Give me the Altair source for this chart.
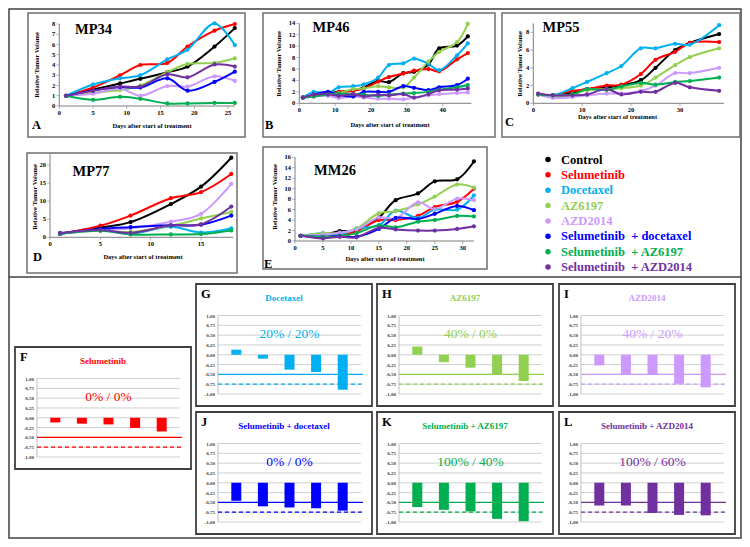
import altair as alt
import pandas as pd

OFF = 8
def X(v): return v - OFF
def Y(v): return v - OFF

FONT = "Liberation Serif, Times New Roman, DejaVu Serif, serif"

SEL_DOC = "Selumetinib\u00a0 + docetaxel"
SEL_AZ6 = "Selumetinib\u00a0 + AZ6197"
SEL_AZD = "Selumetinib\u00a0 + AZD2014"
SERIES = ["Control", "Selumetinib", "Docetaxel", "AZ6197", "AZD2014", SEL_DOC, SEL_AZ6, SEL_AZD]
COLORS = ["#000000", "#ff0000", "#00b0f0", "#92d050", "#cc99ff", "#0000ff", "#00b050", "#7030a0"]

# ---------------- panel A : MP34 ----------------
A_DAYS = [1, 5, 9, 12, 16, 19, 23, 26]
A_VALS = {
    "Control":     [1.0, 1.6, 2.2, 2.65, 3.3, 3.85, 5.8, 7.6],
    "Selumetinib": [1.0, 1.8, 3.0, 4.0, 4.2, 5.8, 7.35, 8.0],
    "Docetaxel":   [1.0, 2.1, 2.7, 3.0, 4.55, 5.5, 8.05, 5.95],
    "AZ6197":      [1.0, 1.3, 1.55, 2.0, 3.3, 4.1, 4.2, 4.65],
    "AZD2014":     [1.0, 1.2, 1.7, 1.0, 1.95, 1.9, 2.9, 2.45],
    SEL_DOC:       [1.0, 1.5, 1.85, 1.8, 2.7, 1.5, 2.35, 3.35],
    SEL_AZ6:       [1.0, 0.6, 0.9, 0.7, 0.25, 0.25, 0.3, 0.3],
    SEL_AZD:       [1.0, 1.5, 1.9, 1.9, 3.1, 2.8, 4.05, 3.85],
}
# ---------------- panel B : MP46 ----------------
B_DAYS = [1, 4, 8, 11, 15, 18, 22, 25, 29, 32, 36, 39, 44, 47]
B_VALS = {
    "Control":     [1.0, 1.4, 1.8, 2.0, 2.2, 2.8, 3.9, 3.7, 5.3, 5.5, 6.8, 9.6, 10.1, 11.7],
    "Selumetinib": [1.0, 1.2, 1.6, 2.0, 2.2, 2.6, 3.8, 4.6, 5.2, 5.7, 6.0, 5.6, 7.7, 8.8],
    "Docetaxel":   [1.0, 2.0, 1.8, 2.8, 3.0, 3.3, 4.5, 6.7, 7.0, 7.8, 6.9, 5.8, 8.4, 10.5],
    "AZ6197":      [1.0, 1.3, 1.6, 1.8, 2.5, 2.6, 3.0, 2.8, 2.8, 4.5, 7.3, 9.0, 10.7, 13.9],
    "AZD2014":     [1.0, 1.2, 1.3, 0.9, 1.2, 1.0, 0.8, 0.8, 0.7, 1.0, 1.4, 1.6, 1.8, 1.9],
    SEL_DOC:       [1.0, 1.5, 2.0, 1.5, 1.2, 2.0, 2.0, 2.0, 3.0, 2.7, 2.3, 2.8, 3.2, 4.3],
    SEL_AZ6:       [1.0, 1.2, 1.5, 1.7, 1.6, 1.5, 1.3, 1.5, 1.7, 1.8, 2.0, 2.4, 2.8, 3.2],
    SEL_AZD:       [1.0, 1.5, 1.6, 1.3, 1.6, 1.2, 1.5, 1.4, 1.6, 1.0, 1.6, 2.3, 2.4, 2.6],
}
# ---------------- panel C : MP55 ----------------
C_DAYS = [1, 4, 8, 11, 15, 18, 22, 25, 29, 32, 38]
C_VALS = {
    "Control":     [1.0, 0.9, 1.2, 1.6, 1.8, 2.0, 2.6, 4.0, 6.0, 6.8, 7.8],
    "Selumetinib": [1.0, 0.9, 1.4, 1.6, 2.0, 2.1, 3.3, 4.9, 5.8, 6.8, 6.9],
    "Docetaxel":   [1.0, 0.9, 1.7, 2.4, 3.4, 4.2, 6.2, 6.2, 6.7, 6.6, 8.8],
    "AZ6197":      [1.0, 0.8, 1.0, 1.5, 1.6, 1.7, 2.0, 2.9, 4.3, 5.2, 6.2],
    "AZD2014":     [1.0, 0.6, 0.7, 0.9, 1.1, 1.1, 1.4, 2.0, 3.4, 3.4, 4.0],
    SEL_AZ6:       [1.0, 0.9, 1.0, 1.6, 1.5, 1.9, 2.3, 2.1, 2.4, 2.5, 2.9],
    SEL_AZD:       [1.1, 0.9, 0.9, 1.0, 1.6, 1.0, 1.3, 1.3, 2.3, 1.8, 1.4],
}
# ---------------- panel D : MP77 ----------------
D_DAYS = [1, 5, 8, 12, 15, 18]
D_VALS = {
    "Control":     [1.0, 2.7, 4.2, 9.2, 14.0, 22.0],
    "Selumetinib": [1.0, 3.2, 6.0, 10.8, 12.5, 17.5],
    "Docetaxel":   [1.0, 2.0, 1.0, 2.9, 1.3, 2.5],
    "AZ6197":      [1.0, 1.8, 1.5, 3.2, 5.2, 7.0],
    "AZD2014":     [1.0, 2.0, 2.5, 4.3, 6.5, 14.8],
    SEL_DOC:       [1.0, 2.3, 2.8, 3.3, 3.5, 6.0],
    SEL_AZ6:       [1.0, 1.8, 0.8, 0.8, 0.9, 1.9],
    SEL_AZD:       [1.2, 2.0, 1.2, 3.3, 3.6, 8.5],
}
# ---------------- panel E : MM26 ----------------
E_DAYS = [1, 5, 8, 11, 15, 18, 22, 25, 29, 32]
E_VALS = {
    "Control":     [1.0, 1.2, 1.9, 2.0, 4.5, 7.8, 9.1, 11.4, 11.8, 15.2],
    "Selumetinib": [1.0, 0.8, 1.0, 1.9, 4.0, 4.0, 4.8, 6.5, 7.5, 10.0],
    "Docetaxel":   [1.0, 1.5, 1.2, 2.4, 3.0, 5.8, 4.4, 6.0, 6.0, 8.7],
    "AZ6197":      [1.0, 1.5, 1.5, 2.4, 5.3, 5.7, 7.0, 8.5, 10.8, 10.2],
    "AZD2014":     [1.0, 1.2, 1.6, 2.2, 4.5, 4.3, 7.4, 6.1, 8.1, 7.8],
    SEL_DOC:       [1.0, 0.8, 1.0, 0.8, 2.3, 4.4, 4.2, 5.2, 6.7, 5.9],
    SEL_AZ6:       [1.0, 0.8, 0.9, 1.5, 3.0, 2.6, 3.7, 4.0, 4.8, 4.7],
    SEL_AZD:       [1.0, 0.5, 0.8, 0.7, 2.5, 2.2, 2.0, 2.0, 2.3, 2.8],
}

# ---------------- waterfall panels ----------------
GRID_VALS = [1.0, 0.75, 0.5, 0.25, 0.0, -0.25, -0.5, -0.75, -1.0]
GRID_LABELS = ["1,00", "0,75", "0,50", "0,25", "0,00", "-0,25", "-0,50", "-0,75", "-1,00"]
THRESH_SOLID = [-0.5]
THRESH_DASH = [-0.75]
BARS = [1, 2, 3, 4, 5]
F_VALS = [-0.12, -0.15, -0.17, -0.26, -0.35]
G_VALS = [0.13, -0.10, -0.38, -0.44, -0.89]
H_VALS = [0.21, -0.19, -0.33, -0.50, -0.67]
I_VALS = [-0.27, -0.50, -0.50, -0.74, -0.83]
J_VALS = [-0.46, -0.60, -0.63, -0.65, -0.71]
K_VALS = [-0.62, -0.69, -0.73, -0.92, -0.98]
L_VALS = [-0.58, -0.58, -0.77, -0.82, -0.83]

COLOR = alt.Color("s:N", scale=alt.Scale(domain=SERIES, range=COLORS), legend=None)


def txt(s, x, y, size, color="black", weight="bold", align="center", angle=None, baseline="middle"):
    kw = dict(align=align, baseline=baseline, font=FONT, fontSize=size, fontWeight=weight, color=color)
    if angle:
        kw["angle"] = angle
    return alt.Chart(pd.DataFrame({"t": [s]})).mark_text(**kw).encode(
        x=alt.value(X(x)), y=alt.value(Y(y)), text="t:N")


def frame(x0, y0, x1, y1, color, width):
    return alt.Chart(pd.DataFrame({"a": [0]})).mark_rect(
        fillOpacity=0, stroke=color, strokeWidth=width).encode(
        x=alt.value(X(x0)), x2=alt.value(X(x1)), y=alt.value(Y(y0)), y2=alt.value(Y(y1)))


def line_panel(days, vals, xdom, xr, ydom, yr, xticks, yticks):
    rows = [dict(day=d, v=v, s=s) for s, arr in vals.items() for d, v in zip(days, arr)]
    df = pd.DataFrame(rows)
    xs = alt.Scale(domain=xdom, range=[X(xr[0]), X(xr[1])], nice=False, zero=False)
    ys = alt.Scale(domain=ydom, range=[Y(yr[0]), Y(yr[1])], nice=False, zero=False)
    enc = dict(x=alt.X("day:Q", scale=xs, axis=None), y=alt.Y("v:Q", scale=ys, axis=None), color=COLOR)
    lines = alt.Chart(df).mark_line(interpolate="catmull-rom", strokeWidth=2).encode(**enc)
    pts = alt.Chart(df).mark_circle(size=18, opacity=1).encode(**enc)
    ax = pd.DataFrame({"x0": [xdom[0]], "x1": [xdom[1]], "y0": [ydom[0]], "y1": [ydom[1]]})
    yline = alt.Chart(ax).mark_rule(color="#7f7f7f", strokeWidth=1).encode(
        x=alt.X("x0:Q", scale=xs, axis=None), y=alt.Y("y0:Q", scale=ys, axis=None), y2="y1:Q")
    xline = alt.Chart(ax).mark_rule(color="#7f7f7f", strokeWidth=1).encode(
        x=alt.X("x0:Q", scale=xs, axis=None), x2="x1:Q", y=alt.Y("y0:Q", scale=ys, axis=None))
    yt = pd.DataFrame({"t": yticks, "x": xdom[0]})
    xt = pd.DataFrame({"t": xticks, "y": ydom[0]})
    ylab = alt.Chart(yt).mark_text(align="right", baseline="middle", dx=-4, font=FONT,
                                   fontSize=6.5, fontWeight="bold", color="black").encode(
        x=alt.X("x:Q", scale=xs, axis=None), y=alt.Y("t:Q", scale=ys, axis=None), text="t:Q")
    xlab = alt.Chart(xt).mark_text(align="center", baseline="top", dy=4, font=FONT,
                                   fontSize=6.5, fontWeight="bold", color="black").encode(
        x=alt.X("t:Q", scale=xs, axis=None), y=alt.Y("y:Q", scale=ys, axis=None), text="t:Q")
    ytk = alt.Chart(yt).mark_tick(orient="horizontal", size=3, thickness=0.8, color="#7f7f7f", xOffset=-1.5).encode(
        x=alt.X("x:Q", scale=xs, axis=None), y=alt.Y("t:Q", scale=ys, axis=None))
    xtk = alt.Chart(xt).mark_tick(orient="vertical", size=3, thickness=0.8, color="#7f7f7f", yOffset=1.5).encode(
        x=alt.X("t:Q", scale=xs, axis=None), y=alt.Y("y:Q", scale=ys, axis=None))
    return alt.layer(yline, xline, ytk, xtk, ylab, xlab, lines, pts)


def wf_panel(L, T, vals, color):
    x0, x1 = L + 22, L + 165
    xs = alt.Scale(domain=[0.5, 5.5], range=[X(x0), X(x1)], nice=False, zero=False)
    ys = alt.Scale(domain=[-1, 1], range=[Y(T + 110), Y(T + 31.5)], nice=False, zero=False)
    gdf = pd.DataFrame({"g": GRID_VALS, "lab": GRID_LABELS})
    grid = alt.Chart(gdf).mark_rule(color="#d0d0d0", strokeWidth=1).encode(
        y=alt.Y("g:Q", scale=ys, axis=None), x=alt.value(X(x0)), x2=alt.value(X(x1)))
    glab = alt.Chart(gdf).mark_text(align="right", baseline="middle", dx=-3, font=FONT,
                                    fontSize=5, fontWeight="bold", color="#404040").encode(
        y=alt.Y("g:Q", scale=ys, axis=None), x=alt.value(X(x0)), text="lab:N")
    adf = pd.DataFrame({"a": [GRID_VALS[-1]], "b": [GRID_VALS[0]]})
    axis = alt.Chart(adf).mark_rule(color="#bfbfbf", strokeWidth=1).encode(
        y=alt.Y("a:Q", scale=ys, axis=None), y2="b:Q", x=alt.value(X(x0)))
    bdf = pd.DataFrame({"b": BARS, "v": vals, "z": 0.0})
    bars = alt.Chart(bdf).mark_bar(size=10, color=color).encode(
        x=alt.X("b:Q", scale=xs, axis=None), y=alt.Y("v:Q", scale=ys, axis=None), y2="z:Q")
    solid = alt.Chart(pd.DataFrame({"t": THRESH_SOLID})).mark_rule(color=color, strokeWidth=1.3).encode(
        y=alt.Y("t:Q", scale=ys, axis=None), x=alt.value(X(x0)), x2=alt.value(X(L + 167)))
    dash = alt.Chart(pd.DataFrame({"t": THRESH_DASH})).mark_rule(
        color=color, strokeWidth=1.3, strokeDash=[4, 3]).encode(
        y=alt.Y("t:Q", scale=ys, axis=None), x=alt.value(X(x0)), x2=alt.value(X(L + 167)))
    return alt.layer(grid, axis, glab, bars, solid, dash)


layers = []
# outer frame and separator
layers.append(alt.Chart(pd.DataFrame({"a": [0]})).mark_rect(fillOpacity=0, stroke="#404040", strokeWidth=1.5).encode(
    x=alt.value(1), x2=alt.value(733), y=alt.value(1), y2=alt.value(530)))
layers.append(alt.Chart(pd.DataFrame({"a": [0]})).mark_rule(color="#404040", strokeWidth=1.5).encode(
    x=alt.value(1), x2=alt.value(733), y=alt.value(Y(277))))

TOP_FRAME = "#6f6f6f"
# top frames
for b in [(28, 13, 245, 137), (263, 13, 495, 137), (502, 13, 740, 137), (27, 153, 237, 273), (263, 147, 487, 269)]:
    layers.append(frame(*b, TOP_FRAME, 1.5))

# line panels
layers.append(line_panel(A_DAYS, A_VALS, [0, 26], [59.3, 234.8], [0, 8], [106, 24],
                         [0, 5, 10, 15, 20, 25], list(range(0, 9))))
layers.append(line_panel(B_DAYS, B_VALS, [0, 48], [299.3, 471.4], [0, 14], [103.3, 23.3],
                         [0, 10, 20, 30, 40], list(range(0, 15, 2))))
layers.append(line_panel(C_DAYS, C_VALS, [0, 39], [533.3, 724], [0, 9], [103.3, 23.4],
                         [0, 10, 20, 30], [0, 2, 4, 6, 8]))
layers.append(line_panel(D_DAYS, D_VALS, [0, 18.2], [50, 233.3], [0, 23], [237.3, 154.1],
                         [0, 5, 10, 15], [0, 5, 10, 15, 20]))
layers.append(line_panel(E_DAYS, E_VALS, [0, 32], [295, 473.9], [0, 16], [241, 157.3],
                         [0, 5, 10, 15, 20, 25, 30], list(range(0, 17, 2))))

# top panel texts
YT = "Relative Tumor Volume"
XT = "Days after start of treatment"
for (yx, yy, xx, xy, name, nx, ny, let, lx, ly) in [
        (37.3, 65, 152, 126, "MP34", 93.5, 30, "A", 32, 125),
        (279, 64, 390, 125, "MP46", 331, 28, "B", 265, 125),
        (519.5, 64, 617.5, 117, "MP55", 561, 27.5, "C", 505, 122),
        (35, 197, 143, 257, "MP77", 91, 172, "D", 33, 257),
        (275, 197, 385, 258.5, "MM26", 335, 171, "E", 264, 264)]:
    layers.append(txt(YT, yx, yy, 6.5, angle=270))
    layers.append(txt(XT, xx, xy, 6.5))
    layers.append(txt(name, nx, ny, 14.5))
    layers.append(txt(let, lx, ly, 12.5, align="left"))

# legend
leg = pd.DataFrame({"s": SERIES, "i": list(range(len(SERIES)))})
ls = alt.Scale(domain=[0, 7], range=[Y(159.5), Y(267)], nice=False, zero=False)
leg_dots = alt.Chart(leg).mark_circle(size=30, opacity=1).encode(
    y=alt.Y("i:Q", scale=ls, axis=None), x=alt.value(X(548)), color=COLOR)
leg_text = alt.Chart(leg).mark_text(align="left", baseline="middle", font=FONT, fontSize=12.5,
                                    fontWeight="bold").encode(
    y=alt.Y("i:Q", scale=ls, axis=None), x=alt.value(X(561)), text="s:N", color=COLOR)
layers.append(alt.layer(leg_dots, leg_text))

# waterfall panels
WF = [
    ("F", "Selumetinib", "0% / 0%", "#ff0000", F_VALS, 15, 347),
    ("G", "Docetaxel", "20% / 20%", "#00b0f0", G_VALS, 196, 284),
    ("H", "AZ6197", "40% / 0%", "#92d050", H_VALS, 377, 284),
    ("I", "AZD2014", "40% / 20%", "#cc99ff", I_VALS, 559, 284),
    ("J", "Selumetinib + docetaxel", "0% / 0%", "#0000ff", J_VALS, 196, 412),
    ("K", "Selumetinib + AZ6197", "100% / 40%", "#00b050", K_VALS, 377, 412),
    ("L", "Selumetinib + AZD2014", "100% / 60%", "#7030a0", L_VALS, 559, 412),
]
for (let, title, pct, col, vals, L, T) in WF:
    layers.append(frame(L, T, L + 176, T + 122, "#404040", 1.8))
    layers.append(wf_panel(L, T, vals, col))
    layers.append(txt(let, L + 5, T + 10, 12.5, align="left"))
    layers.append(txt(title, L + 88, T + 14, 9, color=col))
    layers.append(txt(pct, L + 93.5, T + 49.5, 13.5, color=col, weight="normal"))

chart = alt.layer(*layers).resolve_scale(x="independent", y="independent").properties(
    width=734, height=531, padding=0, autosize=alt.AutoSizeParams(type="none")
).configure_view(stroke=None)

chart.save("out.html", embed_options={"renderer": "svg", "actions": False})
